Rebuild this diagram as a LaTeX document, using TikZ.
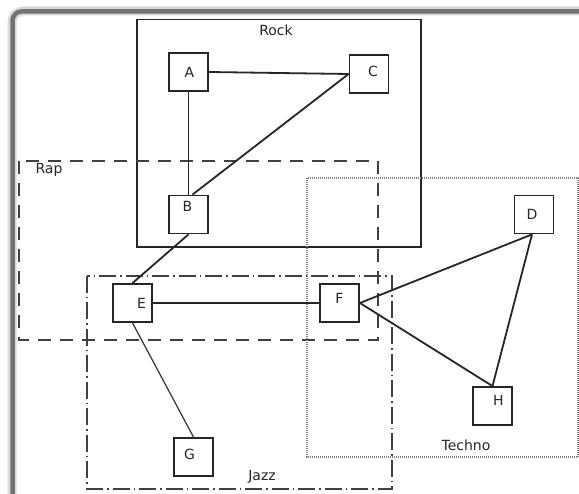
\documentclass[tikz,border=0pt]{standalone}
\usepackage{fontspec}
\setmainfont{DejaVu Sans}
\begin{document}
\begin{tikzpicture}[x=1pt,y=-1pt,
  box/.style={draw=black!85,line width=1.8pt,minimum width=39pt,minimum height=38pt,inner sep=0pt,fill=white},
  edge/.style={draw=black!85,line width=1.8pt},
  thinedge/.style={draw=black!80,line width=1.2pt},
  lbl/.style={text=black!85,font=\fontsize{14}{16}\selectfont,inner sep=0pt},
  rockg/.style={draw=black!85,line width=1.8pt},
  rapg/.style={draw=black!75,line width=1.9pt,dash pattern=on 13pt off 9pt},
  jazzg/.style={draw=black!75,line width=1.7pt,dash pattern=on 17pt off 4pt on 1.5pt off 4pt},
  technog/.style={draw=black!50,line width=1.3pt,dash pattern=on 1pt off 1pt}]
\useasboundingbox (0,0) rectangle (579,494);
\fill[white] (0,0) rectangle (579,494);
\begin{scope}
\clip (0,0) rectangle (579,494);
% window frame
\draw[black!15,line width=9pt,rounded corners=11pt] (12,520) -- (12,11) -- (600,11);
\draw[black!55,line width=4.5pt,rounded corners=9pt] (12.5,496) -- (12.5,11.5) -- (600,11.5);
\end{scope}
% groups
\draw[rockg] (137,19.5) rectangle (421,247);
\node[lbl] (rock) at (276,30) {Rock};
\draw[rapg] (19,161) rectangle (378,340);
\node[lbl] (rap) at (49,170) {Rap};
\draw[technog] (307,178) rectangle (578,457);
\node[lbl] (techno) at (466,445) {Techno};
\draw[jazzg] (87,276) rectangle (392,489);
\node[lbl] (jazz) at (262,477) {Jazz};
% nodes
\node[box,label={[lbl,xshift=1pt,yshift=0pt]center:A}] (A) at (188.5,72) {};
\node[box,label={[lbl,xshift=4pt,yshift=3pt]center:C}] (C) at (369,74) {};
\node[box,label={[lbl,xshift=-1pt,yshift=8pt]center:B}] (B) at (188.5,214.5) {};
\node[box,label={[lbl,xshift=9pt,yshift=0pt]center:E}] (E) at (132.5,303) {};
\node[box,label={[lbl,xshift=0pt,yshift=5pt]center:F}] (F) at (339.5,303) {};
\node[box,label={[lbl,xshift=-2pt,yshift=0pt]center:D}] (D) at (534,214.5) {};
\node[box,label={[lbl,xshift=-4pt,yshift=3pt]center:G}] (G) at (193.5,457) {};
\node[box,label={[lbl,xshift=6pt,yshift=6pt]center:H}] (H) at (492.5,406) {};
% connectors
\draw[edge] (A.east) -- (C.west);
\draw[edge] (A.south) -- (B.north);
\draw[edge] (C.west) -- ([xshift=4pt]B.north);
\draw[edge] (B.south) -- (E.north);
\draw[edge] (E.east) -- (F.west);
\draw[thinedge] (E.south) -- (G.north);
\draw[edge] (F.east) -- ([xshift=-2pt]D.south);
\draw[edge] (F.east) -- (H.north);
\draw[edge] ([xshift=-2pt]D.south) -- (H.north);
\end{tikzpicture}
\end{document}
